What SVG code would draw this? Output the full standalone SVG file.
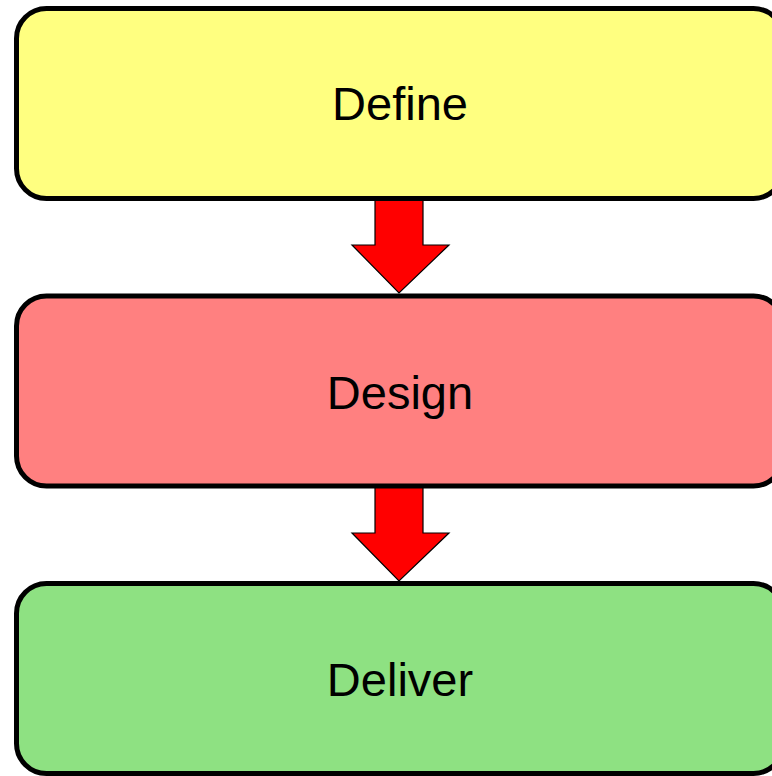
<svg xmlns="http://www.w3.org/2000/svg" width="772" height="776" viewBox="0 0 772 776">
  <style>
    .box { stroke: #000; stroke-width: 5; }
    .label { font-family: "Liberation Sans", Arial, sans-serif; font-size: 47px; fill: #000; text-anchor: middle; }
    .arrow { fill: #ff0000; stroke: #000; stroke-width: 1.2; stroke-linejoin: miter; }
  </style>
  <rect width="772" height="776" fill="#ffffff"/>

  <!-- block arrows between stages -->
  <g id="connectors">
    <polygon class="arrow" points="375,199 423,199 423,245 449,245 399,293 352,245 375,245"/>
    <polygon class="arrow" points="375,487 423,487 423,533 449,533 399,581 352,533 375,533"/>
  </g>

  <g id="define">
    <rect class="box" x="16.5" y="8.5" width="767" height="190" rx="30" ry="30" fill="#ffff80"/>
    <text class="label" x="400" y="120">Define</text>
  </g>

  <g id="design">
    <rect class="box" x="16.5" y="296" width="767" height="190" rx="30" ry="30" fill="#ff8080"/>
    <text class="label" x="400" y="408.5">Design</text>
  </g>

  <g id="deliver">
    <rect class="box" x="16.5" y="583.5" width="767" height="190" rx="30" ry="30" fill="#8ee182"/>
    <text class="label" x="400" y="695.5">Deliver</text>
  </g>
</svg>
